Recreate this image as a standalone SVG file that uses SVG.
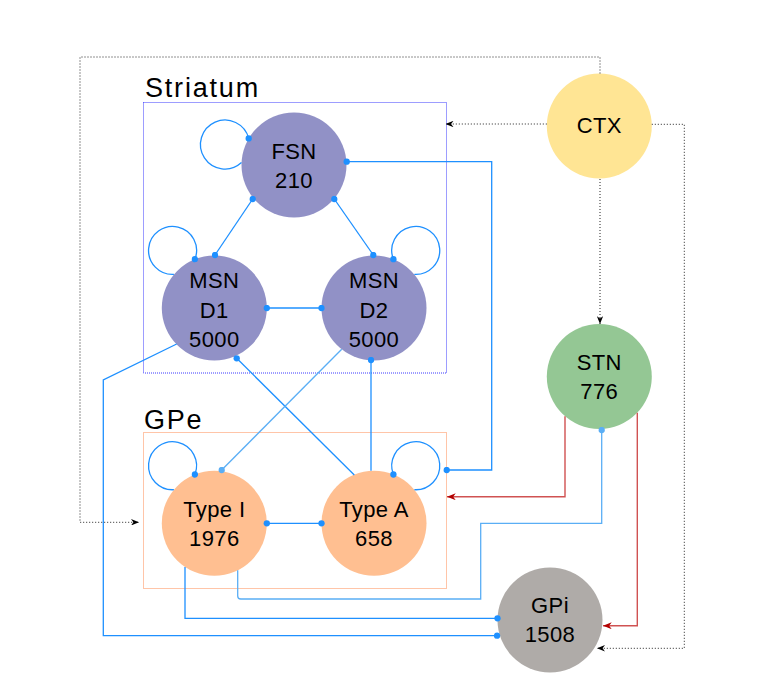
<svg xmlns="http://www.w3.org/2000/svg" width="760" height="699" viewBox="0 0 760 699">
<style>
.grp{font-family:"Liberation Sans",Arial,sans-serif;font-size:27px;letter-spacing:1.8px;fill:#000}
.lbl{font-family:"Liberation Sans",Arial,sans-serif;font-size:22px;letter-spacing:0.4px;fill:#000;text-anchor:middle}
.c{fill:none;stroke:#1E90FF;stroke-width:1.3}
.cl{fill:none;stroke:#5AAEF5;stroke-width:1.3}
.r{fill:none;stroke:#D05252;stroke-width:1.4}
.d{fill:none;stroke:#222;stroke-width:1;stroke-dasharray:1 2}
.str{fill:#9191C6}
.gpe{fill:#FFBF91}
</style>
<defs>
<marker id="dot" viewBox="-4 -4 8 8" refX="0" refY="0" markerWidth="7" markerHeight="7" markerUnits="userSpaceOnUse"><circle r="3.6" fill="#1E90FF"/></marker>
<marker id="dotl" viewBox="-4 -4 8 8" refX="0" refY="0" markerWidth="7" markerHeight="7" markerUnits="userSpaceOnUse"><circle r="3.6" fill="#5AAEF5"/></marker>
<marker id="arrK" viewBox="0 0 10 8" refX="10" refY="4" markerWidth="8" markerHeight="6.4" orient="auto" markerUnits="userSpaceOnUse"><path d="M0,0 L10,4 L0,8 L3,4 Z" fill="#000"/></marker>
<marker id="arrR" viewBox="0 0 10 8" refX="10" refY="4" markerWidth="9" markerHeight="7" orient="auto" markerUnits="userSpaceOnUse"><path d="M0,0 L10,4 L0,8 L3,4 Z" fill="#B20000"/></marker>
</defs>
<rect width="760" height="699" fill="#fff"/>

<g id="striatum-group">
<rect x="143.5" y="102.5" width="303" height="270.5" fill="none" stroke="#3B3BFF" stroke-width="1" stroke-dasharray="1 1"/>
<text class="grp" x="145" y="97">Striatum</text>
</g>
<g id="gpe-group">
<rect x="143.5" y="432.5" width="303" height="156" fill="none" stroke="#FF8A50" stroke-width="1" stroke-dasharray="1 1"/>
<text class="grp" x="144" y="429">GPe</text>
</g>

<g id="FSN"><circle class="str" cx="294" cy="165" r="52.5"/><text class="lbl" x="294" y="159">FSN</text><text class="lbl" x="294" y="188">210</text></g>
<g id="MSN-D1"><circle class="str" cx="214.3" cy="308" r="52.5"/><text class="lbl" x="214.3" y="288">MSN</text><text class="lbl" x="214.3" y="317.5">D1</text><text class="lbl" x="214.3" y="347">5000</text></g>
<g id="MSN-D2"><circle class="str" cx="374" cy="308" r="52.5"/><text class="lbl" x="374" y="288">MSN</text><text class="lbl" x="374" y="317.5">D2</text><text class="lbl" x="374" y="347">5000</text></g>
<g id="TypeI"><circle class="gpe" cx="214.3" cy="523.3" r="52.5"/><text class="lbl" x="214.3" y="517.3">Type I</text><text class="lbl" x="214.3" y="546">1976</text></g>
<g id="TypeA"><circle class="gpe" cx="374" cy="523.3" r="52.5"/><text class="lbl" x="374" y="517.3">Type A</text><text class="lbl" x="374" y="546">658</text></g>
<g id="CTX"><circle cx="599.3" cy="126" r="52.5" fill="#FFE594"/><text class="lbl" x="599.3" y="133.3">CTX</text></g>
<g id="STN"><circle cx="599.3" cy="376.5" r="52.5" fill="#94C794"/><text class="lbl" x="599.3" y="370">STN</text><text class="lbl" x="599.3" y="398.5">776</text></g>
<g id="GPi"><circle cx="550" cy="620" r="52.5" fill="#AFABA8"/><text class="lbl" x="550" y="613.3">GPi</text><text class="lbl" x="550" y="642.3">1508</text></g>

<g id="connectors">
<path class="c" d="M248.7,138.4 A24.5,24.5 0 1 0 241.5,162.6" marker-start="url(#dot)"/>
<path class="c" d="M194.9,259.2 A24,24 0 1 0 173.9,274.4" marker-start="url(#dot)"/>
<path class="c" d="M393.4,259.2 A24,24 0 1 1 414.4,274.4" marker-start="url(#dot)"/>
<path class="c" d="M194.9,474.5 A24,24 0 1 0 173.9,489.7" marker-start="url(#dot)"/>
<path class="c" d="M393.4,474.5 A24,24 0 1 1 414.4,489.7" marker-start="url(#dot)"/>
<path class="c" d="M252.7,199 L215,255" marker-start="url(#dot)" marker-end="url(#dot)"/>
<path class="c" d="M334.3,199 L373.3,255" marker-start="url(#dot)" marker-end="url(#dot)"/>
<path class="c" d="M266.8,308 H321.5" marker-start="url(#dot)" marker-end="url(#dot)"/>
<path class="c" d="M346.7,161.7 H491.7 V470 H446.7" marker-start="url(#dot)" marker-end="url(#dot)"/>
<path class="c" d="M176.7,344 L103.3,380 V635.7 H497" marker-end="url(#dot)"/>
<path class="c" d="M236.7,358.3 L354.3,475" marker-start="url(#dot)"/>
<path class="cl" d="M341.7,349.3 L221.7,470" marker-end="url(#dotl)"/>
<path class="c" d="M371,360 V470.7" marker-start="url(#dot)"/>
<path class="c" d="M266.8,523.3 H321.5" marker-start="url(#dot)" marker-end="url(#dot)"/>
<path class="c" d="M185,567 V618.3 H497.5" marker-end="url(#dot)"/>
<path class="cl" d="M237.7,570.3 V596 Q237.7,599 240.7,599 H480.7 V523.3 H601.7 V430" marker-end="url(#dotl)"/>
<path class="r" d="M565,416.2 V496.7 H447" marker-end="url(#arrR)"/>
<path class="r" d="M637.3,412.7 V625.7 H603" marker-end="url(#arrR)"/>
<path class="d" d="M546.8,124 H445.5" marker-end="url(#arrK)"/>
<path class="d" d="M600,179 V324" marker-end="url(#arrK)"/>
<path class="d" d="M600,73.5 V57 H80 V522.3 H139" marker-end="url(#arrK)"/>
<path class="d" d="M651.8,124.3 H684.3 V648.3 H597" marker-end="url(#arrK)"/>
</g>
</svg>
